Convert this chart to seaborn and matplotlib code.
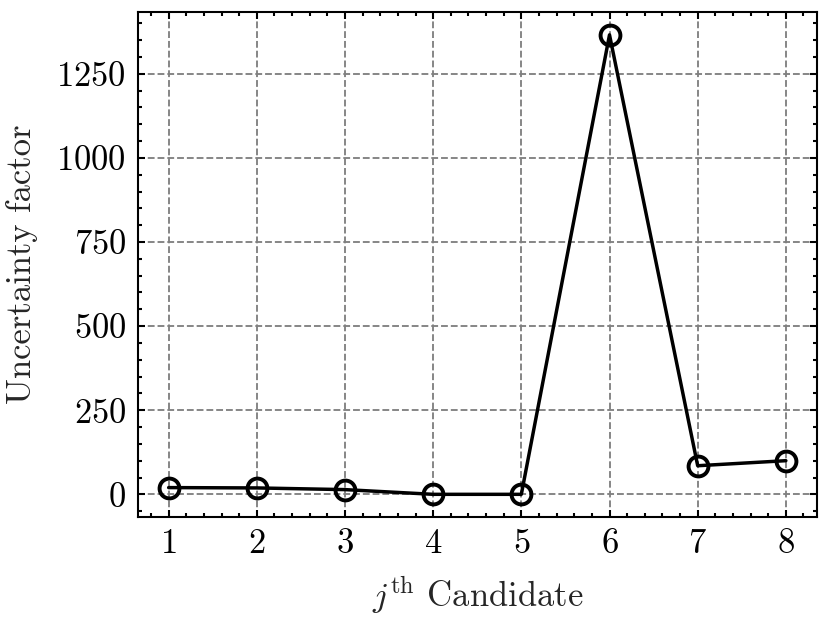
import matplotlib
matplotlib.use("Agg")
import matplotlib.pyplot as plt
import seaborn as sns
import pandas as pd

# data
candidates = [1, 2, 3, 4, 5, 6, 7, 8]
uncertainty = [20, 19, 14, 0, 0, 1366, 85, 100]

df = pd.DataFrame({'Candidate': candidates, 'Uncertainty': uncertainty})

sns.set_style("ticks")
plt.rcParams.update({
    'font.family': 'cmr10',
    'mathtext.fontset': 'cm',
    'axes.formatter.use_mathtext': True,
    'font.size': 7.5,
    'axes.labelsize': 7.5,
    'xtick.labelsize': 7.5,
    'ytick.labelsize': 7.5,
    'axes.linewidth': 0.45,
    'axes.edgecolor': 'black',
    'xtick.direction': 'in',
    'ytick.direction': 'in',
    'xtick.top': True,
    'ytick.right': True,
    'xtick.major.size': 1.6,
    'ytick.major.size': 1.6,
    'xtick.minor.size': 0.9,
    'ytick.minor.size': 0.9,
    'xtick.major.width': 0.45,
    'ytick.major.width': 0.45,
    'xtick.minor.width': 0.45,
    'ytick.minor.width': 0.45,
    'xtick.major.pad': 2.5,
    'ytick.major.pad': 2.5,
    'xtick.minor.visible': True,
    'ytick.minor.visible': True,
    'xtick.color': 'black',
    'ytick.color': 'black',
})

dpi = 332
fig, ax = plt.subplots(figsize=(830 / dpi, 624 / dpi), dpi=dpi)
fig.subplots_adjust(left=0.166, right=0.984, top=0.981, bottom=0.171)

sns.lineplot(data=df, x='Candidate', y='Uncertainty', ax=ax, color='black',
             linewidth=0.75, marker='o', markersize=4.3, markerfacecolor='none',
             markeredgecolor='black', markeredgewidth=0.85)

ax.grid(True, which='major', color='gray', linestyle='--', linewidth=0.4)
ax.set_xticks(candidates)
ax.set_yticks([0, 250, 500, 750, 1000, 1250])
ax.set_xlabel(r'$j^{\mathrm{th}}$ Candidate', labelpad=3)
ax.set_ylabel('Uncertainty factor', labelpad=4)

fig.savefig('out.png', dpi=dpi)
